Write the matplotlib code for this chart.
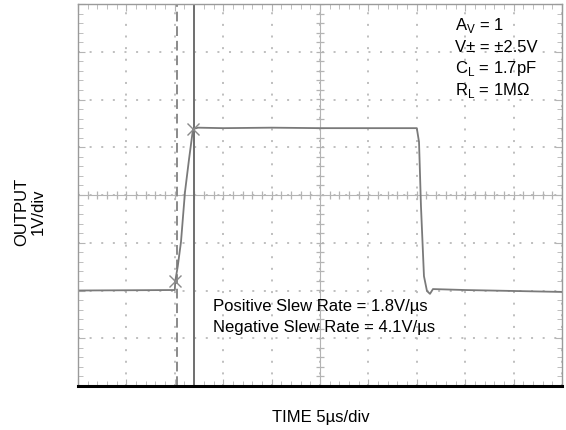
import matplotlib
matplotlib.use("Agg")
import matplotlib.pyplot as plt
import numpy as np
from matplotlib.ticker import MultipleLocator, NullFormatter

plt.rcParams['font.family'] = ['Liberation Sans', 'DejaVu Sans']

# scope trace (5us/div, 1V/div)
time_us = [0, 10.0, 10.05, 10.3, 10.64, 11.05, 11.47, 11.88, 12.4, 15, 20, 25, 30,
           35.0, 35.23, 35.43, 35.74, 36.05, 36.36, 36.67, 40, 45, 50]
output_v = [-2.0, -1.99, -1.80, -1.50, -0.98, 0.06, 0.75, 1.38, 1.41, 1.40, 1.41, 1.40, 1.40,
            1.40, 1.11, -0.23, -1.70, -2.01, -2.07, -1.97, -1.99, -2.01, -2.03]

# cursor positions and the two marked points
cursor_dashed = 10.2
cursor_solid = 12.0
mark_t = [10.0, 11.9]
mark_v = [-1.8, 1.38]

cond_labels = ["A$_\\mathregular{V}$ = 1", "V\u00b1 = \u00b12.5V",
               "C$_\\mathregular{L}$ = 1.7pF", "R$_\\mathregular{L}$ = 1M\u03a9"]
slew_labels = ["Positive Slew Rate = 1.8V/\u00b5s", "Negative Slew Rate = 4.1V/\u00b5s"]

fig = plt.figure(figsize=(5.66, 4.31), dpi=100)
ax = fig.add_axes([78/566, 1-387/431, 484/566, 382/431])
ax.set_xlim(0, 50)
ax.set_ylim(-4, 4)

grid_c = '#b4b4b4'
ax.xaxis.set_major_locator(MultipleLocator(5))
ax.xaxis.set_minor_locator(MultipleLocator(1))
ax.yaxis.set_major_locator(MultipleLocator(1))
ax.yaxis.set_minor_locator(MultipleLocator(0.2))
ax.xaxis.set_major_formatter(NullFormatter())
ax.yaxis.set_major_formatter(NullFormatter())
ax.tick_params(which='both', direction='in', top=True, right=True, color=grid_c)
ax.tick_params(which='major', length=5)
ax.tick_params(which='minor', length=3.5)
ax.grid(which='major', color=grid_c, linestyle=(0, (1.2, 5.77)), linewidth=1.2)

# center cross with minor ticks
ax.axhline(0, color=grid_c, lw=0.8)
ax.axvline(25, color=grid_c, lw=0.8)
xm = np.arange(0, 50.01, 1)
ym = np.arange(-4, 4.01, 0.2)
ax.plot(xm, np.zeros_like(xm), ls='none', marker='|', ms=6, mew=0.9, color=grid_c)
ax.plot(np.full_like(ym, 25), ym, ls='none', marker='_', ms=6, mew=0.9, color=grid_c)

for s in ['left', 'top', 'right']:
    ax.spines[s].set_color('#9a9a9a')
    ax.spines[s].set_linewidth(1.0)
ax.spines['bottom'].set_color('black')
ax.spines['bottom'].set_linewidth(2.2)

# cursors
ax.axvline(cursor_dashed, color='#8a8a8a', lw=1.4, ls=(0, (5, 2.5)))
ax.axvline(cursor_solid, color='#6e6e6e', lw=1.4)

ax.plot(time_us, output_v, color='#7a7a7a', lw=1.3)
ax.plot(mark_t, mark_v, ls='none', marker='x', ms=8, mew=1.0, color='#8a8a8a')

for i, s in enumerate(cond_labels):
    ax.text(38.9, 3.58 - i*0.46, s, fontsize=12, va='center', ha='left')
for i, s in enumerate(slew_labels):
    ax.text(13.95, -2.32 - i*0.44, s, fontsize=12, va='center', ha='left')

fig.text(321/566, 1-418/431, "TIME 5\u00b5s/div", fontsize=12, ha='center', va='center')
fig.text(30/566, 1-212/431, "OUTPUT\n1V/div", fontsize=12, ha='center', va='center',
         rotation=90, multialignment='center', linespacing=1.1)

fig.savefig('out.png', dpi=100)
